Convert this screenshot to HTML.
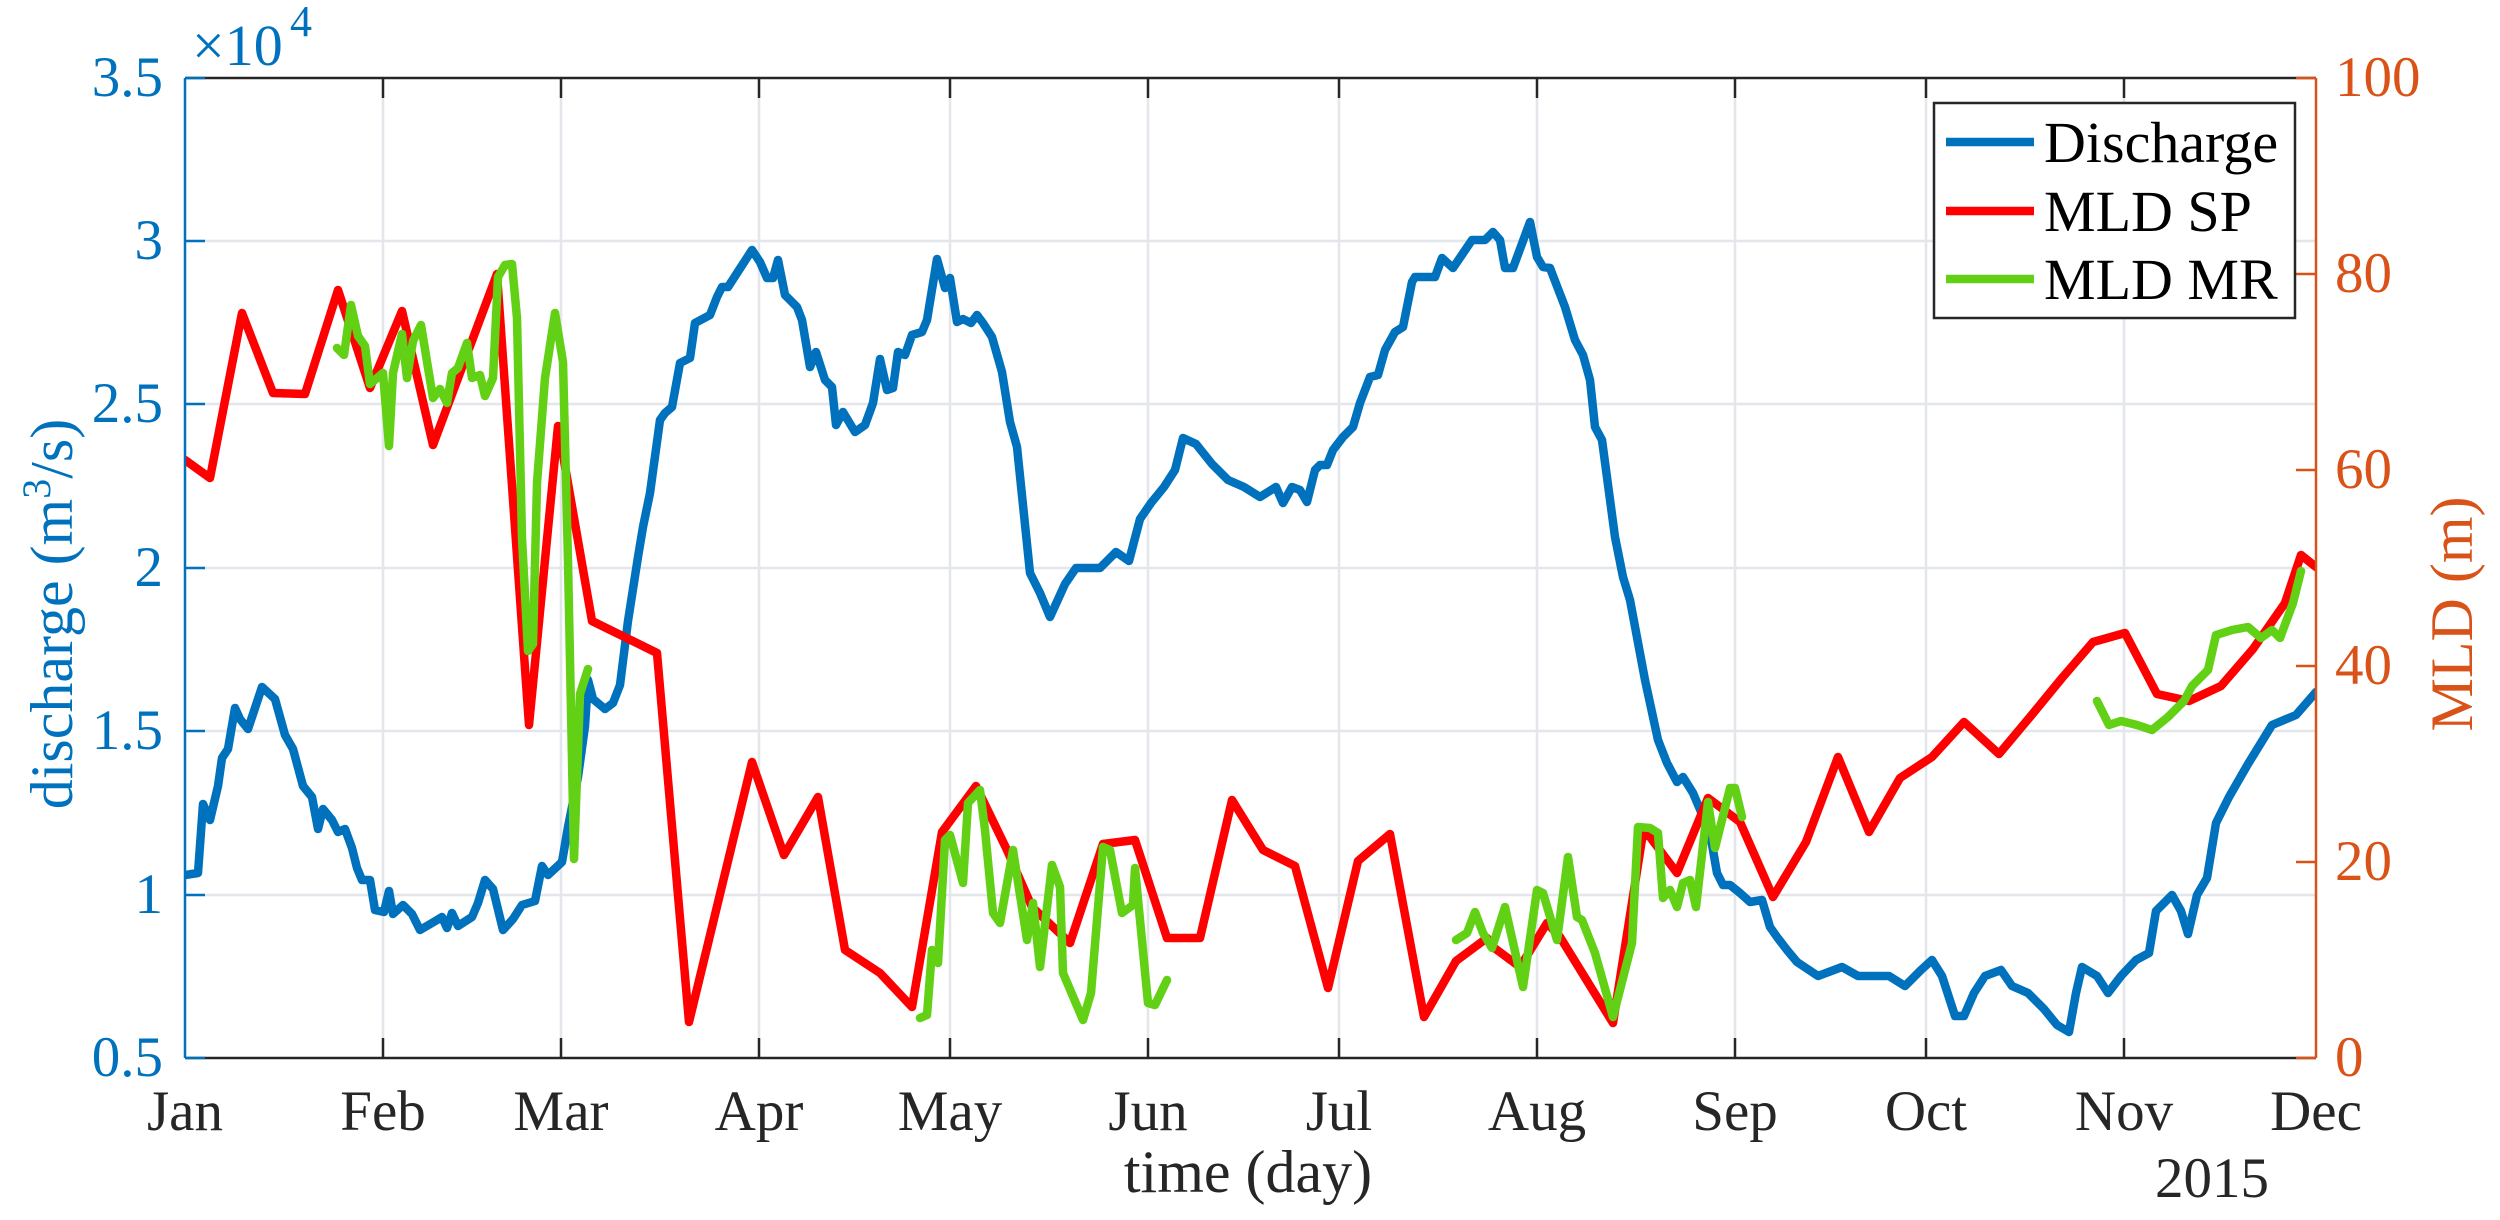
<!DOCTYPE html>
<html><head><meta charset="utf-8"><style>
html,body{margin:0;padding:0;background:#fff;}
svg{display:block;font-family:"Liberation Serif","Times New Roman",serif;}
text{font-family:"Liberation Serif","Times New Roman",serif;}
</style></head><body>
<svg width="2500" height="1220" viewBox="0 0 2500 1220" xmlns="http://www.w3.org/2000/svg" font-family="Liberation Serif, serif">
<defs><clipPath id="c"><rect x="185" y="78" width="2131" height="980"/></clipPath></defs>
<rect width="2500" height="1220" fill="#fff"/>
<g stroke="#e3e6ea" stroke-width="2.5">
<line x1="383" y1="78" x2="383" y2="1058"/><line x1="561" y1="78" x2="561" y2="1058"/><line x1="759" y1="78" x2="759" y2="1058"/><line x1="950" y1="78" x2="950" y2="1058"/><line x1="1148" y1="78" x2="1148" y2="1058"/><line x1="1339" y1="78" x2="1339" y2="1058"/><line x1="1537" y1="78" x2="1537" y2="1058"/><line x1="1735" y1="78" x2="1735" y2="1058"/><line x1="1926" y1="78" x2="1926" y2="1058"/><line x1="2124" y1="78" x2="2124" y2="1058"/>
<line x1="185" y1="895" x2="2316" y2="895"/><line x1="185" y1="731" x2="2316" y2="731"/><line x1="185" y1="568" x2="2316" y2="568"/><line x1="185" y1="404" x2="2316" y2="404"/><line x1="185" y1="241" x2="2316" y2="241"/>
</g>
<g clip-path="url(#c)" fill="none" stroke-linejoin="round" stroke-linecap="round" stroke-width="8.5">
<polyline stroke="#0072BD" points="185,875 198,873 203,804 210,820 218,786 222,758 228,749 235,708 240,719 248,729 262,687 275,699 285,735 293,749 303,786 312,797 318,829 323,809 332,820 338,832 345,829 352,848 357,868 362,880 370,880 375,910 384,912 389,891 393,914 403,905 412,914 420,930 432,923 442,917 447,928 452,913 458,926 472,917 478,903 485,880 493,889 503,930 513,919 522,905 535,901 542,866 548,875 562,862 568,827 578,777 585,726 588,680 593,699 605,709 613,703 620,685 628,621 638,557 643,527 650,493 660,420 665,413 672,407 680,363 690,358 695,323 710,315 717,297 722,287 728,287 752,250 760,262 767,278 773,278 778,260 785,295 797,307 802,320 810,367 816,352 825,380 832,387 836,425 843,412 855,432 865,425 873,403 880,359 887,390 893,388 898,352 905,355 912,335 922,332 927,320 937,259 945,288 950,278 957,322 963,319 971,323 977,315 983,323 992,337 1002,372 1010,422 1017,447 1030,573 1040,593 1050,617 1065,584 1076,568 1100,568 1116,552 1129,561 1140,519 1151,503 1164,487 1175,470 1183,438 1196,444 1212,464 1228,480 1244,487 1260,497 1276,487 1283,503 1292,487 1300,490 1307,502 1315,470 1320,465 1327,465 1333,450 1343,437 1353,427 1360,403 1370,377 1378,375 1385,350 1395,332 1403,327 1412,282 1415,277 1435,277 1442,258 1453,268 1472,240 1485,240 1493,232 1500,240 1505,268 1513,268 1530,222 1537,257 1543,267 1550,268 1565,307 1575,340 1583,355 1590,380 1595,427 1602,440 1615,537 1623,577 1630,600 1645,680 1658,740 1667,763 1677,782 1683,777 1693,793 1710,833 1717,873 1723,885 1730,885 1740,893 1750,902 1762,900 1770,927 1777,937 1787,950 1797,962 1818,976 1842,967 1858,976 1889,976 1905,986 1921,970 1932,960 1942,976 1955,1016 1964,1016 1974,993 1985,976 2001,970 2012,986 2028,993 2044,1009 2057,1025 2069,1032 2076,993 2082,967 2097,976 2108,993 2121,976 2136,960 2149,953 2156,911 2172,895 2181,911 2188,934 2197,895 2207,878 2216,823 2229,797 2248,764 2272,725 2296,715 2316,692"/>
<polyline stroke="#FF0000" points="185,460 210,478 242,313 273,393 305,394 338,290 370,388 402,311 433,445 497,274 529,725 558,426 592,621 657,653 689,1022 752,762 784,855 818,797 845,950 880,973 912,1007 942,832 976,786 1007,850 1032,907 1070,943 1103,844 1135,840 1167,938 1200,938 1232,800 1263,850 1295,866 1328,988 1358,861 1390,834 1424,1017 1456,961 1487,938 1493,947 1520,967 1547,923 1560,937 1613,1023 1643,833 1650,837 1677,873 1708,798 1740,822 1773,897 1806,842 1838,757 1869,832 1900,778 1932,757 1964,722 1999,754 2030,717 2062,678 2093,642 2125,633 2157,694 2189,701 2221,686 2253,649 2285,603 2301,555 2316,567"/>
<g stroke="#62D014">
<polyline points="337,348 344,355 351,305 358,336 365,346 370,384 383,373 389,446 393,373 402,334 407,378 413,341 421,325 433,398 440,389 447,403 452,373 458,368 467,343 472,378 480,375 485,396 493,378 498,277 505,265 512,264 517,318 522,538 528,651 533,644 537,483 545,378 555,313 563,362 568,561 574,859 580,694 588,669"/>
<polyline points="920,1018 927,1015 932,950 938,963 945,840 950,835 963,883 968,803 980,790 985,830 993,913 1000,923 1013,850 1027,940 1033,903 1040,967 1052,865 1060,887 1063,973 1083,1020 1091,993 1103,847 1110,850 1122,913 1133,905 1135,868 1148,1003 1155,1005 1167,980"/>
<polyline points="1456,940 1467,933 1475,912 1483,933 1492,948 1505,907 1523,987 1537,890 1543,893 1557,940 1568,857 1577,917 1582,920 1595,953 1613,1017 1632,943 1638,827 1650,828 1658,833 1663,898 1670,890 1677,907 1683,883 1690,880 1696,907 1708,802 1715,848 1730,788 1735,788 1742,817"/>
<polyline points="2097,701 2109,725 2121,721 2137,725 2152,730 2168,717 2184,701 2192,686 2208,670 2216,635 2232,630 2248,627 2261,638 2272,630 2280,638 2293,603 2301,571"/>
</g>
</g>
<g stroke="#262626" stroke-width="2.5">
<line x1="185" y1="1058" x2="2316" y2="1058"/><line x1="185" y1="78" x2="2316" y2="78"/>
<path d="M383 1058v-20M561 1058v-20M759 1058v-20M950 1058v-20M1148 1058v-20M1339 1058v-20M1537 1058v-20M1735 1058v-20M1926 1058v-20M2124 1058v-20M383 78v20M561 78v20M759 78v20M950 78v20M1148 78v20M1339 78v20M1537 78v20M1735 78v20M1926 78v20M2124 78v20"/>
</g>
<g stroke="#0072BD" stroke-width="2.5"><line x1="185" y1="78" x2="185" y2="1058"/><path d="M185 895h20M185 731h20M185 568h20M185 404h20M185 241h20M185 78h20M185 1058h20"/></g>
<g stroke="#D95319" stroke-width="2.5"><line x1="2316" y1="78" x2="2316" y2="1058"/><path d="M2316 862h-20M2316 666h-20M2316 470h-20M2316 274h-20M2316 78h-20M2316 1058h-20"/></g>
<g fill="#0072BD" font-size="57" text-anchor="end">
<text x="163" y="1076">0.5</text><text x="163" y="913">1</text><text x="163" y="749">1.5</text><text x="163" y="586">2</text><text x="163" y="422">2.5</text><text x="163" y="259">3</text><text x="163" y="96">3.5</text>
</g>
<text x="192" y="65" fill="#0072BD" font-size="58">×10</text><text x="290" y="36" fill="#0072BD" font-size="44">4</text>
<g fill="#D95319" font-size="57">
<text x="2335" y="1076">0</text><text x="2335" y="880">20</text><text x="2335" y="684">40</text><text x="2335" y="488">60</text><text x="2335" y="292">80</text><text x="2335" y="96">100</text>
</g>
<g fill="#262626" font-size="57" text-anchor="middle">
<text x="185" y="1130">Jan</text><text x="383" y="1130">Feb</text><text x="561" y="1130">Mar</text><text x="759" y="1130">Apr</text><text x="950" y="1130">May</text><text x="1148" y="1130">Jun</text><text x="1339" y="1130">Jul</text><text x="1537" y="1130">Aug</text><text x="1735" y="1130">Sep</text><text x="1926" y="1130">Oct</text><text x="2124" y="1130">Nov</text><text x="2316" y="1130">Dec</text>
<text x="2212" y="1197">2015</text>
<text x="1248" y="1192" font-size="60">time (day)</text>
</g>
<text transform="translate(72,614) rotate(-90)" text-anchor="middle" fill="#0072BD" font-size="60">discharge (m<tspan font-size="40" dy="-22">3</tspan><tspan dy="22">/s)</tspan></text>
<text transform="translate(2472,614) rotate(-90)" text-anchor="middle" fill="#D95319" font-size="60">MLD (m)</text>
<rect x="1934" y="103" width="361" height="215" fill="#fff" stroke="#262626" stroke-width="2.5"/>
<g stroke-width="8.5"><line x1="1946" y1="142" x2="2034" y2="142" stroke="#0072BD"/><line x1="1946" y1="211" x2="2034" y2="211" stroke="#FF0000"/><line x1="1946" y1="279" x2="2034" y2="279" stroke="#62D014"/></g>
<g fill="#000" font-size="58"><text x="2044" y="162">Discharge</text><text x="2044" y="231">MLD SP</text><text x="2044" y="299">MLD MR</text></g>
</svg>
</body></html>
